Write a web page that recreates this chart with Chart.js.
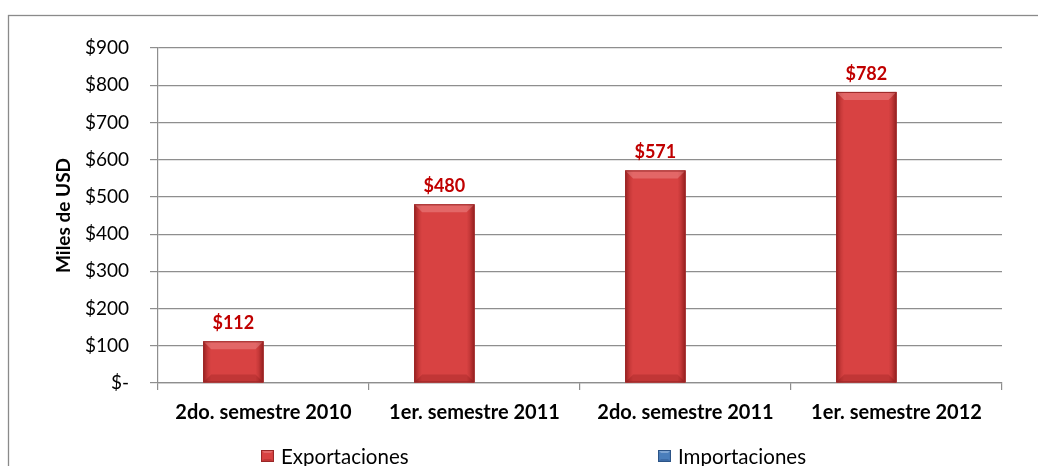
<!DOCTYPE html>
<html>
<head>
<meta charset="utf-8">
<script src="https://cdn.jsdelivr.net/npm/chart.js@4.4.1/dist/chart.umd.min.js"></script>
<style>
  html, body { margin: 0; padding: 0; background: #ffffff; }
  #wrap { width: 1038px; height: 466px; position: relative; }
</style>
</head>
<body>
<div id="wrap"><canvas id="c" width="1038" height="466"></canvas></div>
<script>
// Semester categories and values (miles de USD)
const categories = ['2do. semestre 2010', '1er. semestre 2011', '2do. semestre 2011', '1er. semestre 2012'];
const exportaciones = [112, 480, 571, 782];
const importaciones = [null, null, null, null];
const seriesNames = ['Exportaciones', 'Importaciones'];
const yTickLabels = ['$-', '$100', '$200', '$300', '$400', '$500', '$600', '$700', '$800', '$900'];

const FONT = 'Lato, "Open Sans", sans-serif';
const GRID = '#8e8e8e';

const palette = {
  red:  { body: '#d84242', edge: '#9a2727', shade: '90,0,0', light: 'rgba(255,200,200,0.28)' },
  blue: { body: '#4a7ebb', edge: '#2c5487', shade: '0,20,70', light: 'rgba(220,235,255,0.35)' }
};

// Shaded, bevelled rectangle used for bars and legend markers
function bevelRect(ctx, l, t, r, b, c, depth) {
  const w = r - l, h = b - t;
  if (w <= 0 || h <= 0) return;
  const d = Math.min(depth, w / 4, h / 3);
  ctx.save();
  ctx.fillStyle = c.body;
  ctx.fillRect(l, t, w, h);
  const g = ctx.createLinearGradient(l, 0, r, 0);
  g.addColorStop(0, 'rgba(' + c.shade + ',0.50)');
  g.addColorStop(0.08, 'rgba(' + c.shade + ',0.12)');
  g.addColorStop(0.13, 'rgba(' + c.shade + ',0)');
  g.addColorStop(0.87, 'rgba(' + c.shade + ',0)');
  g.addColorStop(0.92, 'rgba(' + c.shade + ',0.15)');
  g.addColorStop(1, 'rgba(' + c.shade + ',0.55)');
  ctx.fillStyle = g;
  ctx.fillRect(l, t, w, h);
  // top bevel
  ctx.beginPath();
  ctx.moveTo(l, t); ctx.lineTo(r, t); ctx.lineTo(r - d, t + d); ctx.lineTo(l + d, t + d); ctx.closePath();
  ctx.fillStyle = c.light;
  ctx.fill();
  // bottom bevel
  ctx.beginPath();
  ctx.moveTo(l, b); ctx.lineTo(r, b); ctx.lineTo(r - d, b - d); ctx.lineTo(l + d, b - d); ctx.closePath();
  ctx.fillStyle = 'rgba(' + c.shade + ',0.18)';
  ctx.fill();
  ctx.strokeStyle = c.edge;
  ctx.lineWidth = 1;
  ctx.strokeRect(l + 0.5, t + 0.5, w - 1, h - 1);
  ctx.restore();
}

const chartFrame = {
  id: 'chartFrame',
  beforeDraw(chart) {
    const ctx = chart.ctx;
    ctx.save();
    ctx.fillStyle = '#ffffff';
    ctx.fillRect(0, 0, chart.width, chart.height);
    ctx.strokeStyle = '#8a8a8a';
    ctx.lineWidth = 1.3;
    ctx.strokeRect(8.5, 15.5, chart.width + 20, chart.height + 20);
    ctx.restore();
  }
};

const barShading = {
  id: 'barShading',
  afterDatasetsDraw(chart) {
    const ctx = chart.ctx;
    chart.data.datasets.forEach((ds, di) => {
      const meta = chart.getDatasetMeta(di);
      meta.data.forEach((bar, i) => {
        if (ds.data[i] == null) return;
        const p = bar.getProps(['x', 'y', 'base', 'width'], true);
        bevelRect(ctx, p.x - p.width / 2, p.y, p.x + p.width / 2, p.base, ds.shade, 8);
      });
    });
  }
};

const valueLabels = {
  id: 'valueLabels',
  afterDatasetsDraw(chart) {
    const ctx = chart.ctx;
    const meta = chart.getDatasetMeta(0);
    ctx.save();
    ctx.font = 'bold 18px ' + FONT;
    ctx.fillStyle = '#c00000';
    ctx.textAlign = 'center';
    ctx.textBaseline = 'middle';
    meta.data.forEach((bar, i) => {
      const v = chart.data.datasets[0].data[i];
      if (v == null) return;
      ctx.fillText('$' + v, bar.x, bar.y - 18);
    });
    ctx.restore();
  }
};

const bottomLegend = {
  id: 'bottomLegend',
  afterDraw(chart, args, opts) {
    const ctx = chart.ctx;
    ctx.save();
    ctx.font = '20.5px ' + FONT;
    ctx.textBaseline = 'middle';
    ctx.textAlign = 'left';
    chart.data.datasets.forEach((ds, i) => {
      const x = opts.itemX[i], y = opts.y;
      bevelRect(ctx, x, y - 6, x + 13, y + 6, ds.shade, 3);
      ctx.fillStyle = '#000000';
      ctx.fillText(ds.label, x + 20, y + 1);
    });
    ctx.restore();
  }
};

new Chart(document.getElementById('c'), {
  type: 'bar',
  data: {
    labels: categories,
    datasets: [
      { label: seriesNames[0], data: exportaciones, backgroundColor: palette.red.body, shade: palette.red,
        categoryPercentage: 2 / 3.5, barPercentage: 1 },
      { label: seriesNames[1], data: importaciones, backgroundColor: palette.blue.body, shade: palette.blue,
        categoryPercentage: 2 / 3.5, barPercentage: 1 }
    ]
  },
  options: {
    responsive: false,
    animation: false,
    layout: { padding: { top: 48, right: 36, left: 0, bottom: 0 } },
    plugins: {
      legend: { display: false },
      tooltip: { enabled: false },
      bottomLegend: { itemX: [261, 658], y: 456 }
    },
    scales: {
      x: {
        grid: { offset: true, drawOnChartArea: false, drawTicks: true, tickLength: 7, color: GRID, lineWidth: 1.2 },
        border: { color: GRID, width: 1.2 },
        ticks: { color: '#000000', font: { family: FONT, size: 20, weight: 'bold' }, padding: 11,
                 maxRotation: 0, autoSkip: false },
        afterFit(scale) { scale.height = 83; }
      },
      y: {
        min: 0, max: 900,
        grid: { color: GRID, lineWidth: 1.2, tickLength: 8 },
        border: { color: GRID, width: 1.2 },
        ticks: { stepSize: 100, color: '#000000', font: { family: FONT, size: 19 }, padding: 21,
                 callback: (v, i) => yTickLabels[i] },
        title: { display: true, text: 'Miles de USD', color: '#000000',
                 font: { family: FONT, size: 19, weight: 'bold' }, padding: { top: 52, bottom: 0 } },
        afterFit(scale) { scale.width = 158; }
      }
    }
  },
  plugins: [chartFrame, barShading, valueLabels, bottomLegend]
});
</script>
</body>
</html>
